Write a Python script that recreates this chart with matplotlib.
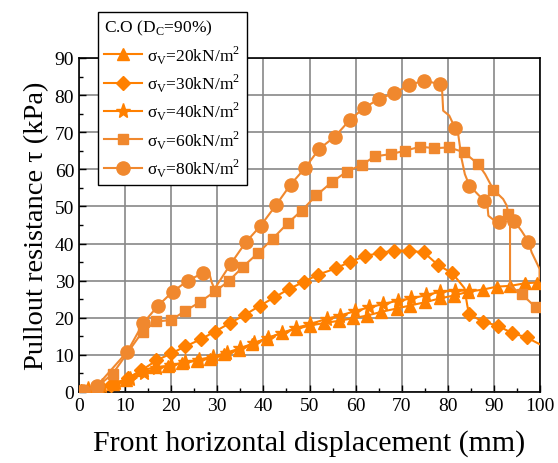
import matplotlib
matplotlib.use("Agg")
import matplotlib.pyplot as plt
from matplotlib.ticker import MultipleLocator

plt.rcParams['font.family'] = ['Liberation Serif', 'DejaVu Serif']
plt.rcParams['mathtext.fontset'] = 'custom'
plt.rcParams['mathtext.rm'] = 'Liberation Serif'

# ---- data (0 in mark list = path-only point) ----
x20 = [1.7, 4.2, 7.3, 10.3, 13.6, 16.5, 19.4, 22.3, 25.5, 28.4, 31.5, 34.7, 37.5, 40.7, 44.0, 47.1,
       50.1, 53.2, 56.5, 59.5, 62.5, 65.6, 68.9, 71.8, 75.1, 78.2, 81.3, 84.4, 87.6, 90.7, 93.6, 96.7, 99.4]
y20 = [0.6, 1.3, 2.2, 3.3, 5.8, 6.7, 7.0, 7.8, 8.4, 9.0, 10.2, 11.4, 12.9, 14.4, 15.9, 17.0,
       17.9, 18.6, 19.2, 19.9, 20.6, 21.6, 22.5, 23.3, 24.2, 25.2, 26.0, 27.0, 27.6, 28.4, 28.6, 29.3, 29.5]
m20 = [1] * len(x20)

x30 = [0.5, 3.5, 7.0, 10.6, 13.5, 16.8, 20.0, 23.1, 26.4, 29.5, 32.8, 36.0, 39.3, 42.4, 45.6, 48.8,
       51.8, 55.7, 58.8, 62.0, 65.3, 68.4, 71.6, 74.8, 77.9, 81.0, 83.6, 84.2, 84.6, 87.7, 90.8, 93.9, 97.1, 99.9]
y30 = [0.2, 0.8, 1.8, 3.8, 5.8, 8.5, 10.4, 12.3, 14.2, 16.3, 18.6, 20.8, 23.3, 25.5, 27.8, 29.7,
       31.6, 33.3, 35.1, 36.6, 37.5, 38.1, 38.1, 37.6, 34.2, 32.0, 28.0, 23.5, 21.0, 18.9, 17.9, 15.9, 14.7, 12.9]
m30 = [1] * 26 + [0, 0] + [1] * 5 + [0]

x40 = [2.0, 5.0, 8.0, 11.0, 14.0, 17.0, 20.0, 23.0, 26.0, 29.0, 32.0, 35.0, 38.0, 41.0, 44.0, 47.0,
       50.1, 53.7, 56.6, 59.9, 62.9, 66.0, 69.1, 72.1, 75.3, 78.3, 81.6, 84.5]
y40 = [0.8, 1.6, 2.5, 3.6, 5.2, 6.5, 7.2, 8.0, 8.7, 9.5, 10.6, 11.8, 13.2, 14.6, 15.9, 17.2,
       18.3, 19.7, 20.6, 21.8, 22.8, 23.7, 24.6, 25.2, 26.1, 27.0, 27.3, 27.3]
m40 = [1] * len(x40)

x60 = [0.8, 3.8, 7.3, 13.8, 16.8, 20.0, 23.1, 26.2, 29.5, 32.5, 35.6, 38.9, 42.0, 45.3, 48.3, 51.5,
       54.8, 58.1, 61.3, 64.2, 67.6, 70.7, 74.0, 77.1, 80.3, 83.5, 86.6, 88.1, 89.9, 92.0, 92.8, 93.1,
       93.5, 93.5, 96.0, 99.1]
y60 = [0.3, 1.3, 4.9, 16.3, 19.0, 19.4, 21.9, 24.2, 27.1, 29.9, 33.8, 37.5, 41.3, 45.5, 48.9, 53.0,
       56.5, 59.4, 61.2, 63.5, 64.1, 65.0, 66.1, 65.7, 65.9, 64.6, 61.4, 58.7, 54.5, 52.0, 50.2, 47.9,
       46.6, 28.6, 26.4, 22.8]
m60 = [1] * 27 + [0, 1, 0, 0, 1, 0, 0, 1, 1]

x80 = [0.8, 3.8, 10.5, 13.9, 17.1, 20.3, 23.6, 26.8, 28.2, 28.8, 29.4, 32.9, 36.2, 39.4, 42.7, 45.9,
       49.0, 52.1, 55.5, 58.8, 61.8, 65.1, 68.3, 71.6, 74.8, 78.2, 78.7, 79.0, 80.3, 81.6, 82.3, 83.0,
       83.7, 84.7, 87.9, 88.6, 88.8, 90.2, 91.1, 94.4, 96.0, 97.5, 98.2, 99.9, 99.9]
y80 = [0.3, 1.5, 10.9, 18.5, 23.2, 27.0, 30.0, 32.0, 32.3, 29.5, 27.8, 34.5, 40.4, 44.8, 50.3, 55.9,
       60.3, 65.5, 68.8, 73.4, 76.5, 79.0, 80.5, 82.7, 83.9, 83.0, 82.8, 75.8, 74.5, 71.1, 69.1, 62.8,
       58.7, 55.6, 51.5, 50.2, 47.5, 46.1, 45.9, 46.1, 43.4, 40.5, 37.6, 33.2, 30.5]
m80 = [1] * 8 + [0, 0, 0] + [1] * 15 + [0, 0, 0, 1, 0, 0, 0, 1, 1, 0, 0, 0, 1, 1, 0, 1, 0, 0, 0]

labels = [r"σ$_\mathregular{V}$=20kN/m$^\mathregular{2}$",
          r"σ$_\mathregular{V}$=30kN/m$^\mathregular{2}$",
          r"σ$_\mathregular{V}$=40kN/m$^\mathregular{2}$",
          r"σ$_\mathregular{V}$=60kN/m$^\mathregular{2}$",
          r"σ$_\mathregular{V}$=80kN/m$^\mathregular{2}$"]
legend_title = r"C.O (D$_\mathregular{C}$=90%)"
xticks = [0, 10, 20, 30, 40, 50, 60, 70, 80, 90, 100]
yticks = [0, 10, 20, 30, 40, 50, 60, 70, 80, 90]

# ---- plot ----
fig = plt.figure(figsize=(5.58, 4.64), dpi=100)
ax = fig.add_axes([79 / 558, 1 - 393 / 464, 461 / 558, 334 / 464])

c1 = '#FF8000'
c2 = '#F0882E'
series = [
    (x20, y20, m20, '^', 8.5, c1),
    (x30, y30, m30, 'D', 7.5, c1),
    (x40, y40, m40, '*', 11, c1),
    (x60, y60, m60, 's', 7.5, c2),
    (x80, y80, m80, 'o', 9.5, c2),
]
handles = []
for (xs, ys, ms, mk, sz, col), lab in zip(series, labels):
    idx = [i for i, m in enumerate(ms) if m]
    h, = ax.plot(xs, ys, color=col, lw=1.5, marker=mk, markersize=sz,
                 markevery=idx, label=lab, zorder=3)
    handles.append(h)

ax.set_xlim(0, 100)
ax.set_ylim(0, 90)
ax.set_xticks(xticks)
ax.set_yticks(yticks)
ax.xaxis.set_minor_locator(MultipleLocator(5))
ax.yaxis.set_minor_locator(MultipleLocator(5))
ax.tick_params(which='both', direction='in', top=False, right=False, labelsize=14)
ax.tick_params(which='major', length=5, width=1)
ax.tick_params(which='minor', length=3, width=1)
ax.grid(True, which='major', color='#888888', lw=1.2, zorder=0)
ax.set_axisbelow(True)
for s in ax.spines.values():
    s.set_linewidth(1.2)
    s.set_color('black')

ax.set_xlabel("Front horizontal displacement (mm)", fontsize=21.5)
ax.xaxis.set_label_coords(0.5, -0.112)
ax.set_ylabel("Pullout resistance τ (kPa)", fontsize=20.5, labelpad=4)

leg = fig.legend(handles=handles, labels=labels, title=legend_title,
                 loc='upper left', bbox_to_anchor=(98 / 558, 1 - 13 / 464),
                 fontsize=12.5, title_fontsize=12.5, frameon=True, fancybox=False,
                 framealpha=1, edgecolor='black', handlelength=2.2, handletextpad=0.3,
                 borderpad=0.35, labelspacing=0.35, borderaxespad=0)
leg._legend_box.align = 'left'
leg.get_frame().set_linewidth(1.0)
leg.set_zorder(10)

fig.savefig('out.png', dpi=100)
